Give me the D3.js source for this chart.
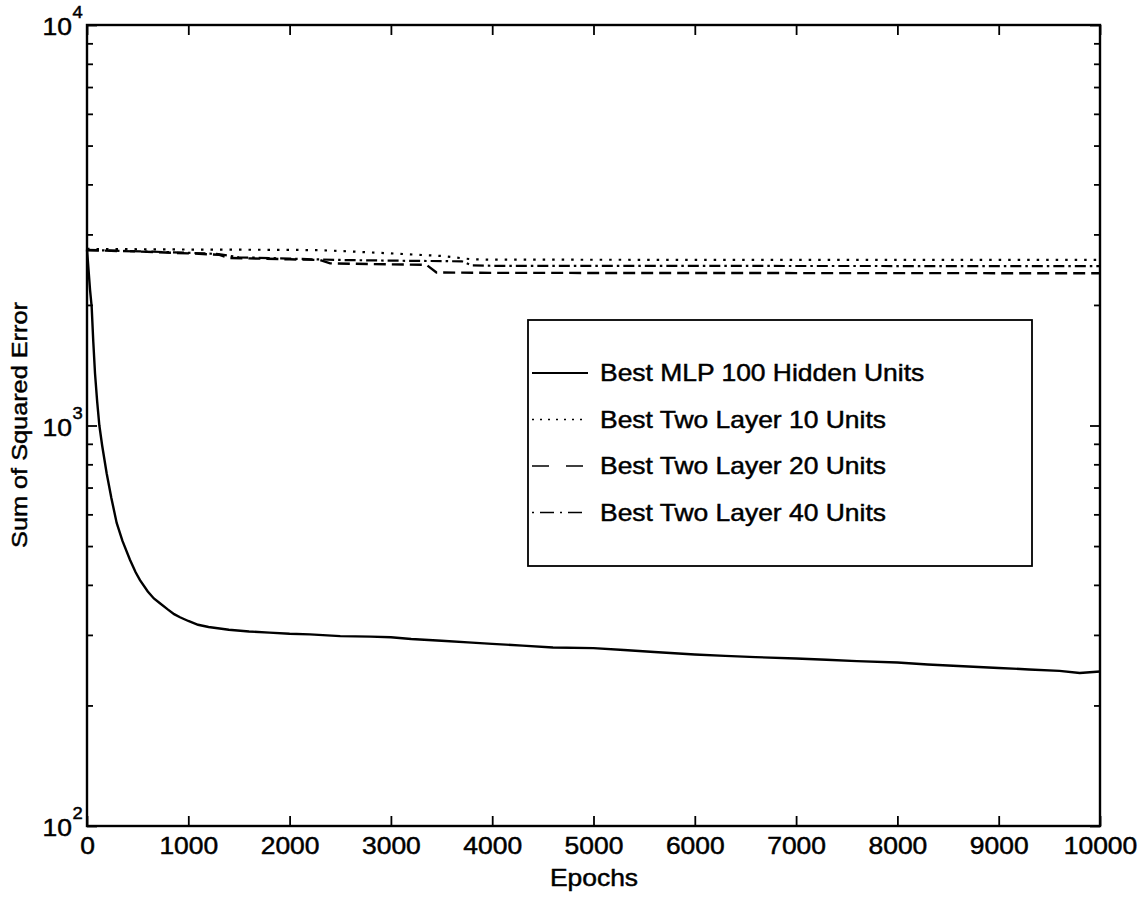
<!DOCTYPE html>
<html>
<head>
<meta charset="utf-8">
<script src="https://cdn.jsdelivr.net/npm/d3@7/dist/d3.min.js"></script>
<style>
  html, body { margin: 0; padding: 0; background: #fff; }
  svg { display: block; }
  text { font-family: "Liberation Sans", Arial, Helvetica, sans-serif; fill: #000; stroke: #000; stroke-width: 0.45px; }
</style>
</head>
<body>
<svg id="chart" width="1148" height="899"></svg>
<script>
// Training curves: sum of squared error per epoch
const mlpEpochs = [0, 15, 30, 46, 62, 79, 100, 122, 150, 194, 240, 293, 350, 424, 480, 523, 600, 660, 720, 800, 860, 918, 1000, 1096, 1200, 1400, 1600, 1800, 2000, 2200, 2500, 2800, 3000, 3200, 3500, 3800, 4000, 4300, 4600, 5000, 5300, 5600, 6000, 6300, 6600, 7000, 7300, 7600, 8000, 8300, 8600, 9000, 9300, 9600, 9800, 9900, 10000];
const mlpSSE = [2750, 2450, 2180, 1980, 1620, 1350, 1150, 1000, 890, 760, 660, 571, 515, 462, 430, 411, 385, 370, 360, 347, 338, 332, 325, 318, 314, 309, 306, 304, 302, 301, 298, 297, 296, 293, 290, 287, 285, 282, 279, 278, 275, 272, 268, 266, 264, 262, 260, 258, 256, 253, 251, 248, 246, 244, 241, 242, 243];

const tl10Epochs = [0, 1000, 2000, 2300, 2600, 3000, 3500, 3800, 4000, 6000, 8000, 10000];
const tl10SSE = [2760, 2750, 2745, 2740, 2720, 2690, 2650, 2600, 2595, 2592, 2590, 2590];

const tl20Epochs = [0, 500, 1000, 1300, 1400, 2000, 2300, 2400, 3000, 3350, 3450, 4000, 7000, 10000];
const tl20SSE = [2740, 2720, 2690, 2670, 2620, 2600, 2590, 2540, 2525, 2520, 2410, 2405, 2402, 2400];

const tl40Epochs = [0, 1000, 1300, 1500, 2000, 2500, 3000, 3700, 3800, 4000, 7000, 10000];
const tl40SSE = [2745, 2700, 2680, 2630, 2610, 2590, 2580, 2570, 2510, 2505, 2502, 2500];

const seriesNames = ["Best MLP 100 Hidden Units", "Best Two Layer 10 Units", "Best Two Layer 20 Units", "Best Two Layer 40 Units"];
const xTicks = [0, 1000, 2000, 3000, 4000, 5000, 6000, 7000, 8000, 9000, 10000];
const yDecades = [2, 3, 4];

const svg = d3.select("#chart");
const plotL = 87, plotR = 1100, plotT = 25, plotB = 826;
const SX = 1.15; // glyphs are drawn slightly widened
const FS = 23;

const x = d3.scaleLinear().domain([0, 10000]).range([plotL, plotR]);
const y = d3.scaleLog().domain([100, 10000]).range([plotB, plotT]);

const minorY = [];
[100, 1000].forEach(b => { for (let k = 2; k <= 9; k++) minorY.push(b * k); });
const majorY = yDecades.map(p => Math.pow(10, p));

// Axes: ticks pointing into the plot on all four sides
function styleAxis(g) {
  g.select(".domain").remove();
  g.selectAll("line").attr("stroke", "#000").attr("stroke-width", 1.8);
}
svg.append("g").attr("transform", `translate(0,${plotB})`)
  .call(d3.axisBottom(x).tickValues(xTicks).tickSize(-10).tickPadding(17).tickFormat(d3.format("d")))
  .call(styleAxis)
  .call(g => g.selectAll("text").attr("font-size", FS).attr("dy", "0.5em")
    .attr("transform", `scale(${SX},1)`).attr("font-family", "Liberation Sans, Arial, sans-serif"));
svg.append("g").attr("transform", `translate(0,${plotT})`)
  .call(d3.axisTop(x).tickValues(xTicks).tickSize(-10).tickFormat(""))
  .call(styleAxis);
[[plotL, d3.axisLeft], [plotR, d3.axisRight]].forEach(([pos, ax]) => {
  svg.append("g").attr("transform", `translate(${pos},0)`)
    .call(ax(y).tickValues(minorY).tickSize(-6).tickFormat(""))
    .call(styleAxis);
  svg.append("g").attr("transform", `translate(${pos},0)`)
    .call(ax(y).tickValues(majorY).tickSize(-10).tickFormat(""))
    .call(styleAxis);
});

// Frame
svg.append("rect").attr("x", plotL).attr("y", plotT)
  .attr("width", plotR - plotL).attr("height", plotB - plotT)
  .attr("fill", "none").attr("stroke", "#000").attr("stroke-width", 2.4);

// Decade labels 10^n
yDecades.forEach(p => {
  const yy = y(Math.pow(10, p));
  const g = svg.append("g").attr("transform", `translate(72,${yy + 10}) scale(${SX},1)`);
  g.append("text").attr("text-anchor", "end").attr("font-size", FS).text("10");
  g.append("text").attr("x", 0.5).attr("y", -17).attr("font-size", 16).text(String(p));
});

// Axis titles
svg.append("g").attr("transform", `translate(594,886) scale(${SX},1)`)
  .append("text").attr("text-anchor", "middle").attr("font-size", FS).text("Epochs");
svg.append("g").attr("transform", `translate(27,425) rotate(-90) scale(${SX},1)`)
  .append("text").attr("text-anchor", "middle").attr("font-size", FS - 1).text("Sum of Squared Error");

// Curves
const line = d3.line().x(d => x(d[0])).y(d => y(d[1]));
const zipSeries = (e, v) => e.map((d, i) => [d, v[i]]);
const styles = [
  { dash: null, w: 2.4 },
  { dash: "2.5,7", w: 2.2 },
  { dash: "12,6", w: 2.4 },
  { dash: "11,4,2.5,4", w: 2.2 }
];
const seriesData = [
  zipSeries(mlpEpochs, mlpSSE),
  zipSeries(tl10Epochs, tl10SSE),
  zipSeries(tl20Epochs, tl20SSE),
  zipSeries(tl40Epochs, tl40SSE)
];
seriesData.forEach((data, i) => {
  svg.append("path").datum(data).attr("d", line)
    .attr("fill", "none").attr("stroke", "#000")
    .attr("stroke-width", styles[i].w)
    .attr("stroke-dasharray", styles[i].dash);
});

// Legend
const lg = svg.append("g");
lg.append("rect").attr("x", 528).attr("y", 320).attr("width", 504).attr("height", 246)
  .attr("fill", "#fff").attr("stroke", "#000").attr("stroke-width", 1.8);
const legendDash = [null, "2,6", "17,17", "2,6,14,6"];
seriesNames.forEach((name, i) => {
  const cy = 373 + i * 46.5;
  lg.append("line").attr("x1", 532).attr("x2", 588).attr("y1", cy).attr("y2", cy)
    .attr("stroke", "#000").attr("stroke-width", i === 0 ? 1.8 : 1.6)
    .attr("stroke-dasharray", legendDash[i]);
  lg.append("g").attr("transform", `translate(600,${cy + 8}) scale(${SX},1)`)
    .append("text").attr("font-size", FS).text(name);
});
</script>
</body>
</html>
